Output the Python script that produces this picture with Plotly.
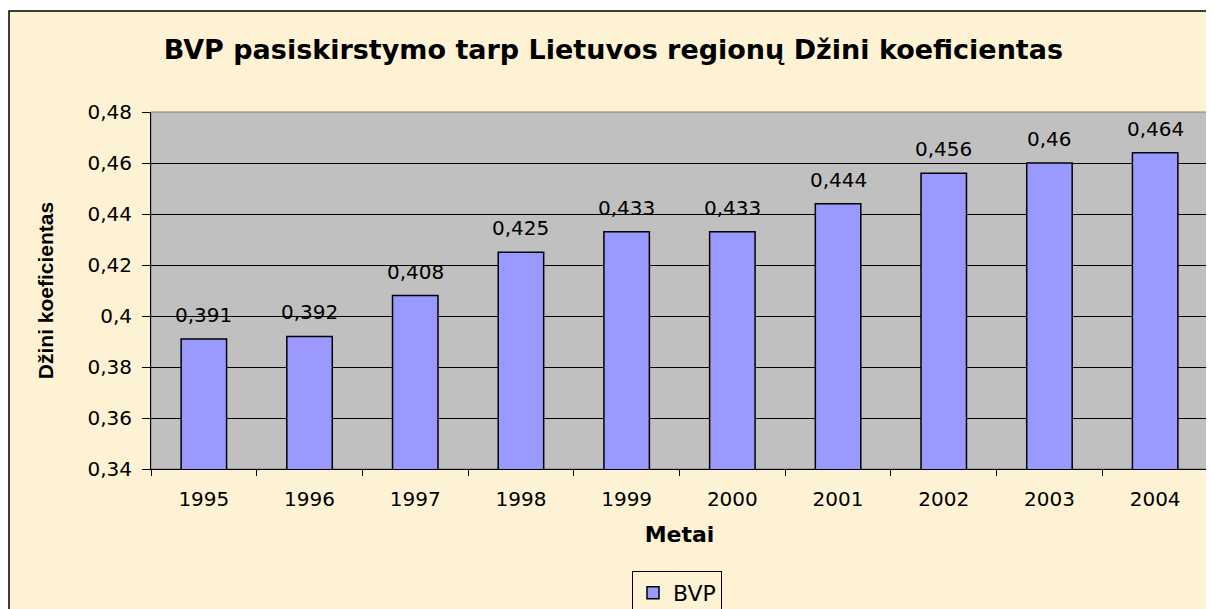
import plotly.graph_objects as go

years = ["1995", "1996", "1997", "1998", "1999", "2000", "2001", "2002", "2003", "2004"]
gini = [0.391, 0.392, 0.408, 0.425, 0.433, 0.433, 0.444, 0.456, 0.46, 0.464]
y_ticks = [0.34, 0.36, 0.38, 0.4, 0.42, 0.44, 0.46, 0.48]

labels = [str(v).replace(".", ",") for v in gini]
font = "DejaVu Sans, Arial, sans-serif"
bold_font = "Liberation Sans, Arial, sans-serif"

# the page body has an 8px margin, so the figure is sized to fit inside it
W, H = 1206, 601
L, R, T, B = 143, 6, 104, 140
pw, ph = W - L - R, H - T - B


def px_x(p):
    return (p - 8 - L) / pw


def px_y(p):
    return (H - B - (p - 8)) / ph


fig = go.Figure()
fig.add_trace(go.Bar(
    x=years, y=gini, name="BVP",
    marker=dict(color="#9999FF", line=dict(color="black", width=1.5)),
    width=0.43,
))

# value labels above the bars (category axis: annotations take the category index)
for i, (v, lab) in enumerate(zip(gini, labels)):
    fig.add_annotation(x=i, y=v, xref="x", yref="y", text=lab, showarrow=False,
                       yanchor="bottom", yshift=10,
                       font=dict(size=20, family=font, color="black"))

# chart frame and grey plot area
fig.add_shape(type="rect", xref="paper", yref="paper",
              x0=px_x(9), x1=px_x(1225), y0=px_y(620), y1=px_y(11),
              fillcolor="#FDF2D3", line=dict(color="black", width=1.5), layer="below")
fig.add_shape(type="rect", xref="paper", yref="paper",
              x0=0, x1=1, y0=0, y1=1,
              fillcolor="#C0C0C0", line=dict(color="#808080", width=1), layer="below")

fig.update_layout(
    width=W, height=H,
    margin=dict(l=L, r=R, t=T, b=B, autoexpand=False),
    paper_bgcolor="white",
    plot_bgcolor="rgba(0,0,0,0)",
    separators=",.",
    font=dict(family=font, color="black", size=20),
    title=dict(text="<b>BVP pasiskirstymo tarp Lietuvos regionų Džini koeficientas</b>",
               x=0.502, xanchor="center", y=1 - (50 - 8) / H, yanchor="middle",
               font=dict(size=27, family=font)),
    showlegend=True,
    legend=dict(xref="container", yref="container",
                x=(677 - 8) / W, xanchor="center", y=1 - (593 - 8) / H, yanchor="middle",
                orientation="h", bgcolor="#FDF2D3", bordercolor="black", borderwidth=1,
                font=dict(size=22)),
)
fig.update_xaxes(
    type="category", range=[-0.5, len(years) - 0.5],
    tickson="boundaries", ticks="outside", ticklen=6,
    tickcolor="black", showline=True, linecolor="black", linewidth=1,
    showgrid=False, ticklabelstandoff=12,
    tickfont=dict(size=20),
    title=dict(text="<b>Metai</b>", font=dict(size=22, family=font), standoff=16),
)
fig.update_yaxes(
    range=[0.34, 0.48], tickvals=y_ticks, ticks="outside", ticklen=8,
    tickcolor="black", showline=True, linecolor="black", linewidth=1,
    showgrid=True, gridcolor="black", gridwidth=1, zeroline=False,
    ticklabelstandoff=6,
    tickfont=dict(size=20),
    title=dict(text="<b>Džini koeficientas</b>", font=dict(size=21, family=bold_font),
               standoff=28),
)

fig.write_html("out.html")
